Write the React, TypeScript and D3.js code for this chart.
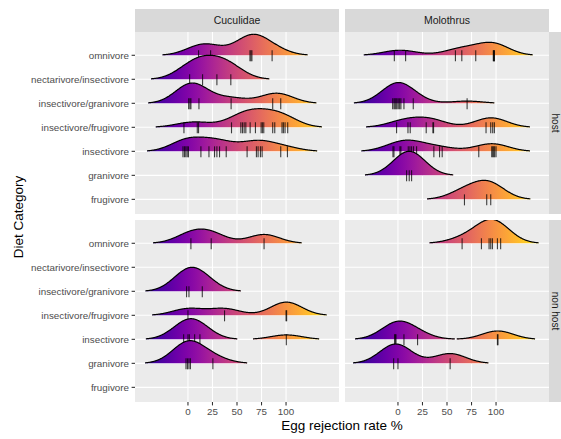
import React from "react";
import * as d3 from "d3";

// diet levels, bottom to top
const diets = [
  "frugivore",
  "granivore",
  "insectivore",
  "insectivore/frugivore",
  "insectivore/granivore",
  "nectarivore/insectivore",
  "omnivore",
];
const parasites = ["Cuculidae", "Molothrus"];
const hostStatus = ["host", "non host"];
const xBreaks = [0, 25, 50, 75, 100];

type Group = [string, number[]];

// egg rejection rates (%) per diet, one list per facet
const cuculidaeHost: Group[] = [
  ["omnivore", [10.8, 23.1, 63.2, 64.2, 65.2, 85.8]],
  ["nectarivore/insectivore", [1.7, 14.9, 29.5, 43.7]],
  ["insectivore/granivore", [0.7, 2, 3, 11.2, 44, 86.4, 94.6]],
  ["insectivore/frugivore", [-4.1, 9.5, 10.8, 44.4, 53.9, 55.6, 57.3, 59, 63.4, 68.8, 74.6, 75.9, 77.3, 86.4, 88.5, 95.9, 97.3, 99, 101.7]],
  ["insectivore", [-5.1, -3.6, -2.2, -0.8, 0.5, 13.2, 21.4, 27.1, 29.5, 32.2, 39, 60.3, 69.8, 71.5, 73.9, 75.6, 94.6, 101.4]],
];
const molothrusHost: Group[] = [
  ["omnivore", [-3.7, 7.8, 58.6, 65.1, 79.3, 97.2, 97.6, 98, 98.4]],
  ["insectivore/granivore", [-5.4, -4, -3, -2, -1, 0.3, 1.7, 3, 6.1, 15.6, 70.5]],
  ["insectivore/frugivore", [-1.4, 10.2, 12.5, 28.8, 35.6, 36.3, 89.8, 94.6, 96.6, 98.3]],
  ["insectivore", [-5.1, -4.1, 2, 3, 10.5, 12.2, 13.9, 15.9, 19, 36.6, 42.4, 45.1, 82.4, 95.6, 96.6, 97.6, 98.6, 100]],
  ["granivore", [8.8, 11.5, 13.9]],
  ["frugivore", [67.8, 90.5, 94.6]],
];
const cuculidaeNonHost: Group[] = [
  ["omnivore", [3, 23.7, 77.6]],
  ["insectivore/granivore", [-1.4, 1, 14.6]],
  ["insectivore/frugivore", [0, 37.3, 100, 100.6]],
  ["insectivore", [-4.4, 0, 1.4, 6.8, 12.2, 100.3]],
  ["granivore", [-2, -0.5, 1, 2.5, 25.4]],
];
const molothrusNonHost: Group[] = [
  ["omnivore", [65.4, 85.1, 92.9, 94.6, 96.3, 101.4, 104.7]],
  ["insectivore", [-3.4, -2.7, -2, 6.1, 20, 101.4, 102]],
  ["granivore", [-4.4, 0, 53.2]],
];

const panels = [
  { col: 0, row: 0, groups: cuculidaeHost },
  { col: 1, row: 0, groups: molothrusHost },
  { col: 0, row: 1, groups: cuculidaeNonHost },
  { col: 1, row: 1, groups: molothrusNonHost },
];

// layout
const W = 561;
const H = 439;
const colX = [135, 345];
const rowY = [32, 220];
const panelW = 204;
const panelH = 182;

const BW = 16; // joint bandwidth
const REL_MIN = 0.02; // trim very low tails, like rel_min_height

const x = d3.scaleLinear().domain([-54, 154]).range([0, panelW]);
const y = d3.scaleLinear().domain([0.39, 7.97]).range([panelH, 0]);
const rowPx = y(0) - y(1);

const allValues = panels.flatMap((p) => p.groups.flatMap((g) => g[1]));
const FROM = (d3.min(allValues) as number) - 3 * BW;
const TO = (d3.max(allValues) as number) + 3 * BW;
const grid = d3.range(512).map((i) => FROM + ((TO - FROM) * i) / 511);

function kde(vals: number[]) {
  const c = 1 / (vals.length * BW * Math.sqrt(2 * Math.PI));
  return grid.map((g) => c * d3.sum(vals, (v) => Math.exp(-0.5 * ((g - v) / BW) ** 2)));
}

const area = d3
  .area<[number, number]>()
  .x((d) => x(d[0]))
  .y0(0)
  .y1((d) => -d[1] * rowPx);
const line = d3
  .line<[number, number]>()
  .x((d) => x(d[0]))
  .y((d) => -d[1] * rowPx);

function Panel({ col, row, groups }: { col: number; row: number; groups: Group[] }) {
  const dens = groups.map((g) => kde(g[1]));
  const pmax = d3.max(dens.flat()) as number;
  // draw top rows first so lower ridges overlap them
  const order = groups
    .map((g, i) => ({ name: g[0], vals: g[1], dens: dens[i] }))
    .sort((a, b) => diets.indexOf(b.name) - diets.indexOf(a.name));
  const clipId = `clip-${col}-${row}`;
  return (
    <g transform={`translate(${colX[col]},${rowY[row]})`}>
      <clipPath id={clipId}>
        <rect width={panelW} height={panelH} />
      </clipPath>
      <rect width={panelW} height={panelH} fill="#EBEBEB" />
      {diets.map((d, i) => (
        <line key={d} x1={0} x2={panelW} y1={y(i + 1)} y2={y(i + 1)} stroke="#fff" strokeWidth={1.1} />
      ))}
      {xBreaks.map((b) => (
        <line key={b} x1={x(b)} x2={x(b)} y1={0} y2={panelH} stroke="#fff" strokeWidth={1.1} />
      ))}
      <g clipPath={`url(#${clipId})`}>
        {order.map((g) => {
          const base = y(diets.indexOf(g.name) + 1);
          const pts: [number, number][] = grid.map((gx, i) => [gx, g.dens[i] / pmax]);
          const segs: [number, number][][] = [];
          let cur: [number, number][] = [];
          pts.forEach((p) => {
            if (p[1] >= REL_MIN) cur.push(p);
            else if (cur.length) {
              segs.push(cur);
              cur = [];
            }
          });
          if (cur.length) segs.push(cur);
          return (
            <g key={g.name} transform={`translate(0,${base})`}>
              {segs.map((s, k) => (
                <g key={k}>
                  <path d={area(s) as string} fill="url(#plasma)" />
                  <path d={line(s) as string} fill="none" stroke="#000" strokeWidth={1.2} />
                </g>
              ))}
              {g.vals.map((v, k) => (
                <line key={k} x1={x(v)} x2={x(v)} y1={-5} y2={6} stroke="#000" strokeOpacity={0.75} strokeWidth={1.1} />
              ))}
            </g>
          );
        })}
      </g>
    </g>
  );
}

export default function App() {
  const font = "'Liberation Sans', Arial, sans-serif";
  const stops = d3.range(0, 1.0001, 0.05);
  return (
    <svg
      width={W}
      height={H}
      style={{ position: "absolute", left: 0, top: 0, background: "#fff" }}
      fontFamily={font}
    >
      <defs>
        <linearGradient id="plasma" gradientUnits="userSpaceOnUse" x1={x(FROM)} x2={x(TO)} y1={0} y2={0}>
          {stops.map((t) => (
            <stop key={t} offset={t} stopColor={d3.interpolatePlasma(t)} />
          ))}
        </linearGradient>
      </defs>
      <rect width={W} height={H} fill="#fff" />

      {panels.map((p) => (
        <Panel key={`${p.col}-${p.row}`} {...p} />
      ))}

      {/* top strips */}
      {parasites.map((name, c) => (
        <g key={name}>
          <rect x={colX[c]} y={9} width={panelW} height={23} fill="#D9D9D9" />
          <text x={colX[c] + panelW / 2} y={20.5} dy="0.35em" textAnchor="middle" fontSize={10.5} fill="#1A1A1A">
            {name}
          </text>
        </g>
      ))}
      {/* right strips */}
      {hostStatus.map((name, r) => (
        <g key={name}>
          <rect x={549} y={rowY[r]} width={12} height={panelH} fill="#D9D9D9" />
          <text
            transform={`translate(555.3,${rowY[r] + panelH / 2}) rotate(90)`}
            dy="0.35em"
            textAnchor="middle"
            fontSize={10}
            fill="#1A1A1A"
          >
            {name}
          </text>
        </g>
      ))}

      {/* y axes */}
      {rowY.map((ry) => (
        <g key={ry} transform={`translate(${colX[0]},${ry})`}>
          {diets.map((d, i) => (
            <g key={d}>
              <line x1={-3.4} x2={0} y1={y(i + 1)} y2={y(i + 1)} stroke="#333" strokeWidth={1.1} />
              <text x={-6} y={y(i + 1)} dy="0.35em" textAnchor="end" fontSize={9.8} fill="#4D4D4D">
                {d}
              </text>
            </g>
          ))}
        </g>
      ))}

      {/* x axes */}
      {colX.map((cx) => (
        <g key={cx} transform={`translate(${cx},${rowY[1] + panelH})`}>
          {xBreaks.map((b) => (
            <g key={b}>
              <line x1={x(b)} x2={x(b)} y1={0} y2={3.4} stroke="#333" strokeWidth={1.1} />
              <text x={x(b)} y={13.3} textAnchor="middle" fontSize={9.8} fill="#4D4D4D">
                {b}
              </text>
            </g>
          ))}
        </g>
      ))}

      <text x={(colX[0] + colX[1] + panelW) / 2} y={430} textAnchor="middle" fontSize={13.5} fill="#000">
        Egg rejection rate %
      </text>
      <text transform={`translate(23,${(rowY[0] + rowY[1] + panelH) / 2}) rotate(-90)`} textAnchor="middle" fontSize={13.5} fill="#000">
        Diet Category
      </text>
    </svg>
  );
}
